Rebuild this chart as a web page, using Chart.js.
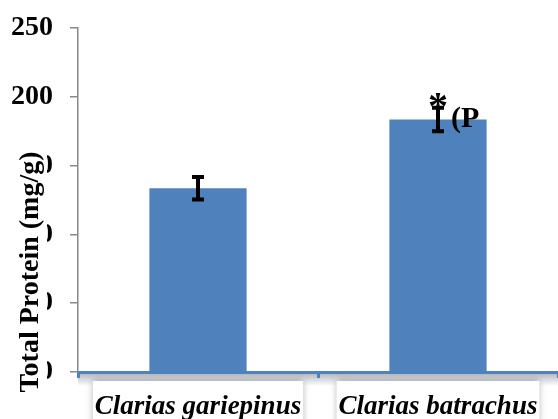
<!DOCTYPE html>
<html>
<head>
<meta charset="utf-8">
<script src="https://cdn.jsdelivr.net/npm/chart.js@4.4.1/dist/chart.umd.min.js"></script>
<style>
html,body{margin:0;padding:0;background:#fff;}
#wrap{width:558px;height:419px;position:relative;}
</style>
</head>
<body>
<div id="wrap"><canvas id="c" width="558" height="419"></canvas></div>
<script>
// ---- data ----
const categories = ['Clarias gariepinus', 'Clarias batrachus'];
const proteinValues = [133.5, 183.5];
const proteinErrors = [8.2, 8.5];
const significanceMarks = ['', '*'];
const significanceNotes = ['', '(P'];
const yAxisTitle = 'Total Protein (mg/g)';
const yMin = 0, yMax = 250, yStep = 50;

const BLUE = '#4F81BD';
const SERIF = '"Liberation Serif", "Times New Roman", serif';

const labelBoxes = {
  id: 'labelBoxes',
  beforeDraw(chart) {
    const ctx = chart.ctx;
    const xs = chart.scales.x;
    const area = chart.chartArea;
    ctx.save();
    const g = ctx.createLinearGradient(0, area.bottom + 1, 0, area.bottom + 14);
    g.addColorStop(0, 'rgba(150,156,166,0.75)');
    g.addColorStop(1, 'rgba(150,156,166,0)');
    ctx.fillStyle = g;
    ctx.fillRect(area.left, area.bottom + 1, chart.width - area.left, 13);
    ctx.font = 'italic bold 27px ' + SERIF;
    categories.forEach((c, i) => {
      const cx = xs.getPixelForTick(i);
      const w = ctx.measureText(c).width + 4;
      ctx.shadowColor = 'rgba(0,0,0,0.35)';
      ctx.shadowBlur = 7;
      ctx.fillStyle = '#fff';
      ctx.fillRect(cx - w / 2, area.bottom + 9, w, 60);
    });
    ctx.restore();
  }
};

const errorBars = {
  id: 'errorBars',
  afterDatasetsDraw(chart) {
    const ctx = chart.ctx;
    const meta = chart.getDatasetMeta(0);
    const ys = chart.scales.y;
    ctx.save();
    ctx.strokeStyle = '#000';
    ctx.lineWidth = 4;
    meta.data.forEach((bar, i) => {
      const x = bar.x;
      const top = ys.getPixelForValue(proteinValues[i] + proteinErrors[i]);
      const bot = ys.getPixelForValue(proteinValues[i] - proteinErrors[i]);
      ctx.beginPath();
      ctx.moveTo(x, top); ctx.lineTo(x, bot);
      ctx.moveTo(x - 6, top); ctx.lineTo(x + 6, top);
      ctx.moveTo(x - 6, bot); ctx.lineTo(x + 6, bot);
      ctx.stroke();
      ctx.fillStyle = '#000';
      if (significanceMarks[i]) {
        ctx.font = 'bold 40px ' + SERIF;
        ctx.textAlign = 'center';
        ctx.textBaseline = 'middle';
        ctx.fillText(significanceMarks[i], x, top + 1);
      }
      if (significanceNotes[i]) {
        ctx.font = 'bold 30px ' + SERIF;
        ctx.textAlign = 'left';
        ctx.textBaseline = 'middle';
        ctx.fillText(significanceNotes[i], x + 13, bar.y);
      }
    });
    ctx.restore();
  }
};

const yTitle = {
  id: 'yTitle',
  afterDraw(chart) {
    const ctx = chart.ctx;
    ctx.save();
    ctx.fillStyle = '#fff';
    ctx.fillRect(0, 140, 47, 279);
    ctx.translate(31, 272);
    ctx.rotate(-Math.PI / 2);
    ctx.font = 'bold 28px ' + SERIF;
    ctx.fillStyle = '#000';
    ctx.textAlign = 'center';
    ctx.textBaseline = 'middle';
    ctx.fillText(yAxisTitle, 0, 0);
    ctx.restore();
  }
};

new Chart(document.getElementById('c'), {
  type: 'bar',
  data: {
    labels: categories,
    datasets: [{
      data: proteinValues,
      backgroundColor: BLUE,
      borderWidth: 0,
      barPercentage: 0.5,
      categoryPercentage: 0.81
    }]
  },
  options: {
    responsive: false,
    animation: false,
    devicePixelRatio: 1,
    layout: { padding: { top: 28, right: 0, left: 0, bottom: 0 } },
    plugins: { legend: { display: false }, tooltip: { enabled: false } },
    scales: {
      x: {
        grid: { drawOnChartArea: false, drawTicks: true, tickLength: 6, color: BLUE, lineWidth: 3, offset: true },
        border: { display: true, color: BLUE, width: 3 },
        ticks: { font: { family: SERIF, size: 27, weight: 'bold', style: 'italic' }, color: '#000', padding: 13, maxRotation: 0 },
        afterFit(s) { s.height = 47; s.paddingLeft = 0; s.paddingRight = 0; }
      },
      y: {
        min: yMin, max: yMax,
        ticks: { stepSize: yStep, font: { family: SERIF, size: 28, weight: 'bold' }, color: '#000', padding: 17 },
        grid: { drawOnChartArea: false, drawTicks: true, tickLength: 8, color: '#888', lineWidth: 1.5 },
        border: { display: true, color: '#888', width: 1.5 },
        afterFit(s) { s.width = 78; s.paddingTop = 0; s.paddingBottom = 0; }
      }
    }
  },
  plugins: [labelBoxes, errorBars, yTitle]
});
</script>
</body>
</html>
